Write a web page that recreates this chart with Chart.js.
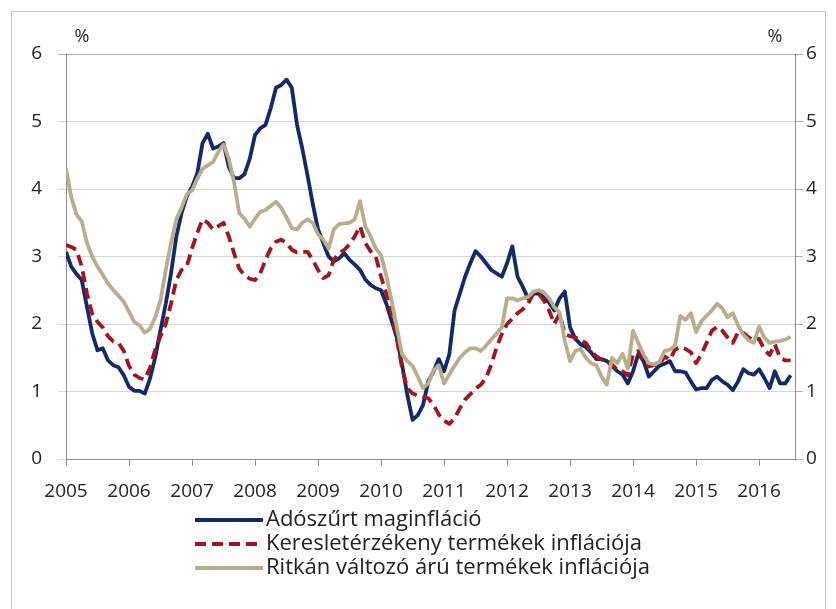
<!DOCTYPE html>
<html>
<head>
<meta charset="utf-8">
<script src="https://cdn.jsdelivr.net/npm/chart.js@4.4.1/dist/chart.umd.min.js"></script>
<style>
  html, body { margin: 0; padding: 0; background: #fff; }
  #wrap { position: relative; width: 836px; height: 609px; }
</style>
</head>
<body>
<div id="wrap"><canvas id="chart" width="836" height="609"></canvas></div>
<script>
// monthly data, Jan 2005 .. Jul 2016
const startYear = 2005
const yearTicks = [2005, 2006, 2007, 2008, 2009, 2010, 2011, 2012, 2013, 2014, 2015, 2016]
const valueTicks = [0, 1, 2, 3, 4, 5, 6]

const seriesNames = [
  "Adószűrt maginfláció",
  "Keresletérzékeny termékek inflációja",
  "Ritkán változó árú termékek inflációja"
]

const adoszurt = [
  3.07, 2.85, 2.74, 2.65, 2.25, 1.86, 1.61, 1.64, 1.46, 1.39, 1.36, 1.24,
  1.07, 1.01, 1.01, 0.97, 1.19, 1.51, 1.91, 2.30, 2.75, 3.29, 3.64, 3.89,
  4.03, 4.23, 4.68, 4.82, 4.60, 4.63, 4.68, 4.33, 4.16, 4.16, 4.22, 4.45,
  4.80, 4.90, 4.95, 5.20, 5.50, 5.54, 5.62, 5.50, 4.95, 4.60, 4.20, 3.78,
  3.40, 3.20, 3.00, 2.93, 2.97, 3.05, 2.95, 2.88, 2.80, 2.66, 2.58, 2.53,
  2.50, 2.30, 2.05, 1.80, 1.40, 0.95, 0.58, 0.65, 0.80, 1.15, 1.30, 1.48,
  1.30, 1.55, 2.20, 2.45, 2.70, 2.90, 3.08, 3.00, 2.90, 2.80, 2.75, 2.70,
  2.90, 3.15, 2.70, 2.55, 2.38, 2.45, 2.45, 2.40, 2.32, 2.20, 2.38, 2.48,
  1.95, 1.78, 1.70, 1.66, 1.58, 1.48, 1.48, 1.45, 1.38, 1.30, 1.25, 1.12,
  1.30, 1.56, 1.45, 1.22, 1.30, 1.38, 1.41, 1.45, 1.30, 1.30, 1.28, 1.15,
  1.03, 1.05, 1.05, 1.17, 1.22, 1.15, 1.10, 1.02, 1.15, 1.33, 1.27, 1.25,
  1.33, 1.20, 1.05, 1.30, 1.12, 1.12, 1.24
]

const keresleti = [
  3.17, 3.14, 3.10, 2.85, 2.45, 2.15, 2.03, 1.95, 1.82, 1.74, 1.72, 1.60,
  1.38, 1.25, 1.20, 1.18, 1.35, 1.62, 1.82, 2.00, 2.30, 2.65, 2.80, 2.85,
  3.12, 3.35, 3.55, 3.50, 3.40, 3.45, 3.50, 3.30, 3.05, 2.82, 2.72, 2.67,
  2.65, 2.75, 2.95, 3.12, 3.22, 3.25, 3.20, 3.10, 3.06, 3.07, 3.07, 2.95,
  2.80, 2.68, 2.72, 2.95, 3.05, 3.10, 3.18, 3.30, 3.45, 3.20, 3.08, 3.00,
  2.70, 2.45, 2.15, 1.78, 1.35, 1.05, 0.97, 0.94, 0.92, 0.90, 0.80, 0.66,
  0.57, 0.52, 0.60, 0.75, 0.88, 0.96, 1.04, 1.10, 1.20, 1.40, 1.65, 1.85,
  2.00, 2.08, 2.16, 2.22, 2.30, 2.45, 2.45, 2.35, 2.20, 2.00, 2.15, 1.85,
  1.82, 1.80, 1.76, 1.72, 1.60, 1.52, 1.47, 1.46, 1.40, 1.32, 1.30, 1.24,
  1.55, 1.60, 1.45, 1.37, 1.39, 1.40, 1.52, 1.47, 1.62, 1.66, 1.63, 1.58,
  1.42, 1.55, 1.72, 1.90, 1.96, 1.90, 1.80, 1.72, 1.88, 1.87, 1.80, 1.76,
  1.78, 1.62, 1.54, 1.70, 1.50, 1.46, 1.46
]

const ritkan = [
  4.30, 3.88, 3.62, 3.52, 3.20, 3.00, 2.85, 2.73, 2.60, 2.50, 2.42, 2.33,
  2.18, 2.03, 1.98, 1.87, 1.93, 2.10, 2.35, 2.80, 3.20, 3.55, 3.72, 3.92,
  3.98, 4.15, 4.30, 4.35, 4.40, 4.55, 4.66, 4.45, 4.10, 3.64, 3.56, 3.44,
  3.56, 3.66, 3.69, 3.75, 3.81, 3.72, 3.58, 3.42, 3.40, 3.50, 3.55, 3.50,
  3.33, 3.25, 3.12, 3.40, 3.48, 3.49, 3.50, 3.55, 3.82, 3.45, 3.30, 3.12,
  3.02, 2.72, 2.35, 1.95, 1.55, 1.45, 1.38, 1.22, 1.05, 1.12, 1.31, 1.39,
  1.12, 1.25, 1.38, 1.50, 1.58, 1.64, 1.64, 1.60, 1.68, 1.77, 1.86, 1.95,
  2.38, 2.38, 2.35, 2.38, 2.40, 2.48, 2.50, 2.47, 2.38, 2.25, 2.17, 1.75,
  1.45, 1.60, 1.63, 1.50, 1.42, 1.39, 1.22, 1.10, 1.50, 1.42, 1.56, 1.34,
  1.90, 1.72, 1.55, 1.42, 1.40, 1.44, 1.60, 1.62, 1.68, 2.12, 2.06, 2.16,
  1.88, 2.04, 2.12, 2.20, 2.30, 2.23, 2.10, 2.16, 1.98, 1.84, 1.76, 1.72,
  1.96, 1.80, 1.72, 1.74, 1.75, 1.77, 1.81
]

const colors = ["#14296b", "#a3151d", "#b8ae8b"]
const FONT = "'Open Sans', 'Noto Sans', sans-serif"

const toPoints = (arr) => arr.map((v, i) => ({ x: startYear + i / 12, y: v }))

// frame, % labels and the line legend
const decorations = {
  id: "decorations",
  beforeDraw(chart) {
    const { ctx } = chart
    ctx.save()
    ctx.strokeStyle = "#c4c4c4"
    ctx.lineWidth = 1
    ctx.strokeRect(11.5, 11.5, 814, 640)
    ctx.restore()
  },
  afterDraw(chart) {
    const { ctx, chartArea } = chart
    ctx.save()
    ctx.fillStyle = "#222"
    ctx.font = `18px ${FONT}`
    ctx.textBaseline = "middle"
    ctx.textAlign = "center"
    ctx.fillText("%", chartArea.left + 16, chartArea.top - 17)
    ctx.fillText("%", chartArea.right - 20, chartArea.top - 17)

    ctx.font = `22px ${FONT}`
    ctx.textAlign = "left"
    chart.data.datasets.forEach((ds, i) => {
      const y = 520 + i * 24
      ctx.beginPath()
      ctx.strokeStyle = ds.borderColor
      ctx.lineWidth = ds.borderWidth
      ctx.setLineDash(ds.borderDash || [])
      ctx.moveTo(195, y)
      ctx.lineTo(263, y)
      ctx.stroke()
      ctx.setLineDash([])
      ctx.fillText(ds.label, 266, y)
    })
    ctx.restore()
  }
}

new Chart(document.getElementById("chart").getContext("2d"), {
  type: "line",
  data: {
    datasets: [
      { label: seriesNames[0], data: toPoints(adoszurt), borderColor: colors[0], borderWidth: 3.8, order: 3 },
      { label: seriesNames[1], data: toPoints(keresleti), borderColor: colors[1], borderWidth: 3.8, borderDash: [11, 6], order: 2 },
      { label: seriesNames[2], data: toPoints(ritkan), borderColor: colors[2], borderWidth: 3.8, order: 1 }
    ]
  },
  options: {
    responsive: false,
    animation: false,
    events: [],
    layout: { padding: { left: 11, right: 1, top: 54, bottom: 110 } },
    elements: {
      point: { radius: 0 },
      line: { tension: 0, borderJoinStyle: "round", fill: false }
    },
    plugins: { legend: { display: false }, tooltip: { enabled: false } },
    scales: {
      x: {
        type: "linear",
        min: startYear,
        max: 2016.57,
        afterBuildTicks: (axis) => { axis.ticks = yearTicks.map(v => ({ value: v })) },
        afterFit: (axis) => { axis.height = 40 },
        border: { color: "#8c8c8c" },
        grid: { drawOnChartArea: false, color: "#8c8c8c", tickLength: 7 },
        ticks: {
          color: "#222", font: { family: FONT, size: 19 }, padding: 14, maxRotation: 0, autoSkip: false,
          callback: (v) => String(v)
        }
      },
      y: {
        position: "left",
        min: 0,
        max: 6,
        afterBuildTicks: (axis) => { axis.ticks = valueTicks.map(v => ({ value: v })) },
        afterFit: (axis) => { axis.width = 55 },
        border: { color: "#8c8c8c" },
        grid: {
          color: (c) => c.tick && c.tick.value === 6 ? "#b0b0b0" : "#d6d6d6",
          tickLength: 8
        },
        ticks: { color: "#222", font: { family: FONT, size: 19 }, padding: 16 }
      },
      y2: {
        position: "right",
        min: 0,
        max: 6,
        afterBuildTicks: (axis) => { axis.ticks = valueTicks.map(v => ({ value: v })) },
        afterFit: (axis) => { axis.width = 40 },
        border: { color: "#8c8c8c" },
        grid: { drawOnChartArea: false, color: "#b0b0b0", tickLength: 8 },
        ticks: { color: "#222", font: { family: FONT, size: 19 }, padding: 3 }
      }
    }
  },
  plugins: [decorations]
})
</script>
</body>
</html>
